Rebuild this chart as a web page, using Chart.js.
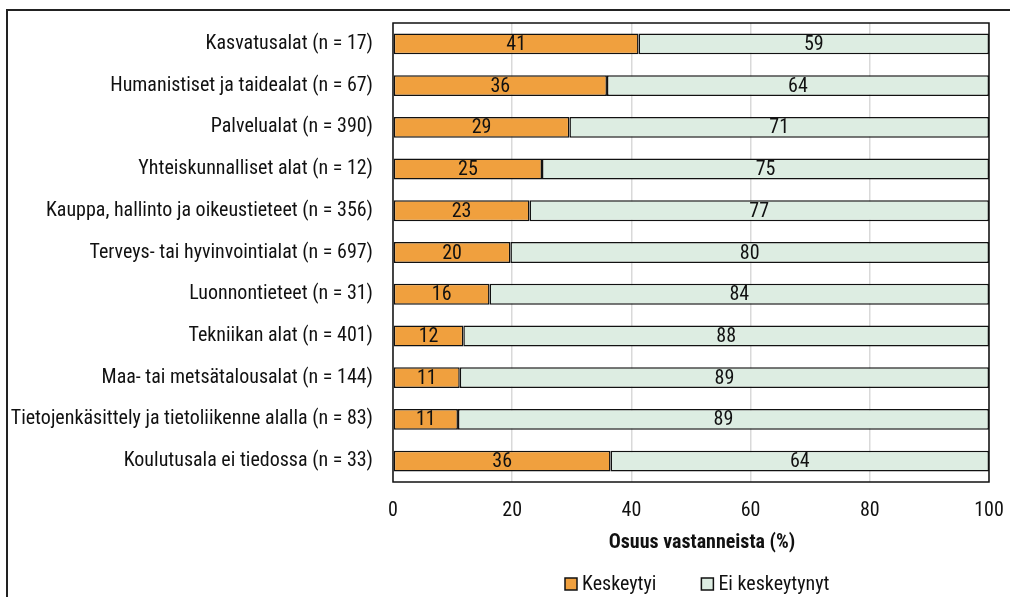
<!DOCTYPE html>
<html>
<head>
<meta charset="utf-8">
<script src="https://cdn.jsdelivr.net/npm/chart.js@4"></script>
<style>
    html, body { margin: 0; padding: 0; background: #fff; }
    #wrap { position: relative; width: 1010px; height: 597px; overflow: hidden; }
    #frame { position: absolute; left: 6px; top: 9px; width: 1100px; height: 700px;
             border-left: 2px solid #222; border-top: 2px solid #222; }
    canvas { position: absolute; left: 0; top: 0; }
</style>
</head>
<body>
<div id="wrap">
    <div id="frame"></div>
    <canvas id="chart" width="1010" height="597"></canvas>
</div>
<script>
const FONT = "'Roboto Condensed', 'Liberation Sans Narrow', 'Arial Narrow', sans-serif";

const categories = [
    "Kasvatusalat (n = 17)",
    "Humanistiset ja taidealat (n = 67)",
    "Palvelualat (n = 390)",
    "Yhteiskunnalliset alat (n = 12)",
    "Kauppa, hallinto ja oikeustieteet (n = 356)",
    "Terveys- tai hyvinvointialat (n = 697)",
    "Luonnontieteet (n = 31)",
    "Tekniikan alat (n = 401)",
    "Maa- tai metsätalousalat (n = 144)",
    "Tietojenkäsittely ja tietoliikenne alalla (n = 83)",
    "Koulutusala ei tiedossa (n = 33)"
];

// bar lengths (%)
const keskeytyi = [41.2, 35.9, 29.6, 25.0, 22.9, 19.7, 16.2, 11.8, 11.2, 10.9, 36.5];
const eiKeskeytynyt = [58.8, 64.1, 70.4, 75.0, 77.1, 80.3, 83.8, 88.2, 88.8, 89.1, 63.5];

// value labels printed in the bars
const keskeytyiLabels = [41, 36, 29, 25, 23, 20, 16, 12, 11, 11, 36];
const eiKeskeytynytLabels = [59, 64, 71, 75, 77, 80, 84, 88, 89, 89, 64];

const xTicks = [0, 20, 40, 60, 80, 100];
const seriesNames = ["Keskeytyi", "Ei keskeytynyt"];
const seriesColors = ["#F0A03E", "#DDEDE2"];
const axisTitle = "Osuus vastanneista (%)";

// Draws plot frame, value labels, axis title and legend
const extras = {
    id: "extras",
    beforeDatasetsDraw(chart) {
        let a = chart.chartArea;
        let ctx = chart.ctx;
        ctx.save();
        ctx.strokeStyle = "#111";
        ctx.lineWidth = 1.5;
        ctx.strokeRect(a.left, a.top, a.right - a.left, a.bottom - a.top);
        ctx.restore();
    },
    afterDatasetsDraw(chart) {
        let ctx = chart.ctx;
        let labelSets = [keskeytyiLabels, eiKeskeytynytLabels];
        ctx.save();
        ctx.font = "20px " + FONT;
        ctx.fillStyle = "#111";
        ctx.textAlign = "center";
        ctx.textBaseline = "middle";
        chart.data.datasets.forEach((ds, di) => {
            chart.getDatasetMeta(di).data.forEach((bar, i) => {
                let p = bar.getProps(["x", "y", "base"], true);
                ctx.fillText(String(labelSets[di][i]), (p.x + p.base) / 2, p.y + 1);
            });
        });

        // axis title
        ctx.font = "bold 20px " + FONT;
        ctx.fillText(axisTitle, 702, 543);

        // legend
        ctx.font = "20px " + FONT;
        ctx.textAlign = "left";
        let x = 565;
        seriesNames.forEach((name, i) => {
            ctx.fillStyle = seriesColors[i];
            ctx.fillRect(x, 578, 12, 12);
            ctx.strokeStyle = "#111";
            ctx.lineWidth = 1.5;
            ctx.strokeRect(x, 578, 12, 12);
            ctx.fillStyle = "#111";
            ctx.fillText(name, x + 17, 585);
            x += 17 + ctx.measureText(name).width + 45;
        });
        ctx.restore();
    }
};

new Chart(document.getElementById("chart"), {
    type: "bar",
    data: {
        labels: categories,
        datasets: [
            { label: seriesNames[0], data: keskeytyi, backgroundColor: seriesColors[0] },
            { label: seriesNames[1], data: eiKeskeytynyt, backgroundColor: seriesColors[1] }
        ].map(ds => Object.assign(ds, {
            borderColor: "#111",
            borderWidth: 1.5,
            borderSkipped: false,
            barPercentage: 1,
            categoryPercentage: 0.5
        }))
    },
    options: {
        indexAxis: "y",
        responsive: false,
        animation: false,
        layout: { padding: { top: 23, right: 21, left: 0, bottom: 0 } },
        scales: {
            x: {
                stacked: true,
                min: 0,
                max: 100,
                afterBuildTicks: (scale) => { scale.ticks = xTicks.map(v => ({ value: v })); },
                afterFit: (scale) => {
                    scale.height = 115;
                    scale.paddingLeft = 0;
                    scale.paddingRight = 0;
                },
                ticks: { color: "#111", padding: 17, maxRotation: 0, font: { family: FONT, size: 20 } },
                grid: { color: "#D9D9D9", lineWidth: 1.5, drawTicks: false },
                border: { display: false }
            },
            y: {
                stacked: true,
                afterFit: (scale) => {
                    scale.width = 393;
                    scale.paddingTop = 0;
                    scale.paddingBottom = 0;
                },
                ticks: { color: "#111", padding: 20, font: { family: FONT, size: 20 } },
                grid: { display: false, drawTicks: false },
                border: { display: false }
            }
        },
        plugins: {
            legend: { display: false },
            tooltip: { enabled: false }
        }
    },
    plugins: [extras]
});
</script>
</body>
</html>
